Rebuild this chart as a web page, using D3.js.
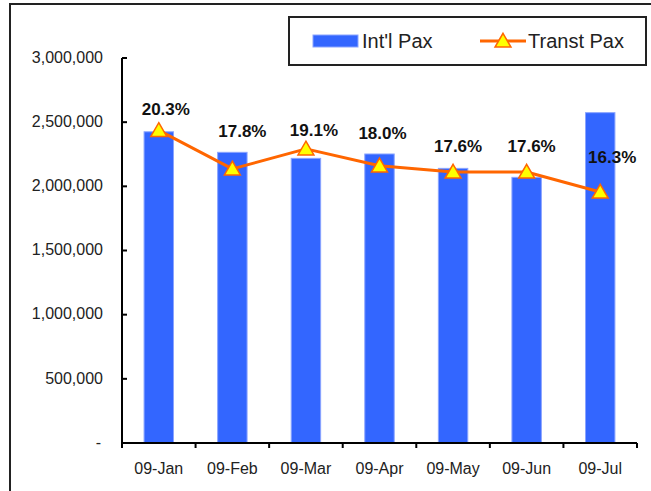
<!DOCTYPE html>
<html>
<head>
<meta charset="utf-8">
<script src="https://cdn.jsdelivr.net/npm/d3@7"></script>
<style>
  html, body { margin: 0; padding: 0; background: #fff; }
  svg { display: block; font-family: 'Liberation Sans', Arial, sans-serif; }
  .tickLabel { font-size: 16px; fill: #222; }
  .pctLabel { font-size: 17px; font-weight: bold; fill: #111; }
  .legendLabel { font-size: 20px; fill: #222; }
</style>
</head>
<body>
<div id="chart"></div>
<script>
const months = ['09-Jan', '09-Feb', '09-Mar', '09-Apr', '09-May', '09-Jun', '09-Jul'];
const intlPax = [2425000, 2265000, 2218000, 2252000, 2140000, 2070000, 2574000];
const transitShare = [0.203, 0.178, 0.191, 0.180, 0.176, 0.176, 0.163];
const yTicks = [0, 500000, 1000000, 1500000, 2000000, 2500000, 3000000];
const seriesNames = ["Int'l Pax", 'Transt Pax'];

// hand-placed data label offsets (px from marker), like the dragged excel labels
const labelOffsets = [[7, -21], [10, -38], [8, -19], [3, -33], [5, -26], [5, -26], [12, -35]];

const width = 651;
const height = 491;
const barColor = '#3366ff';
const lineColor = '#ff6600';
const markerFill = '#ffff00';

const svg = d3.select('#chart').append('svg').attr('width', width).attr('height', height);

const xScale = d3.scaleBand().domain(months).range([122, 637]);
const yScale = d3.scaleLinear().domain([0, 3000000]).range([443, 58]);
// hidden secondary axis for the share line
const y2Scale = d3.scaleLinear().domain([0, 0.25]).range([443, 58]);

const fmtTick = (d) => (d === 0 ? '-' : d3.format(',')(d));
const fmtPct = d3.format('.1%');
const triangle = d3.symbol().type(d3.symbolTriangle);

// outer frame (top + left edge of the sheet)
svg.append('path')
  .attr('d', `M10,${height}V4H${width}`)
  .attr('fill', 'none')
  .attr('stroke', '#222')
  .attr('stroke-width', 2);

// bars
const barWidth = xScale.bandwidth() * 0.4;
svg.append('g')
  .selectAll('rect')
  .data(intlPax)
  .enter()
  .append('rect')
  .attr('x', (d, i) => xScale(months[i]) + (xScale.bandwidth() - barWidth) / 2)
  .attr('y', (d) => yScale(d))
  .attr('width', barWidth)
  .attr('height', (d) => yScale(0) - yScale(d))
  .attr('fill', barColor)
  .attr('stroke', '#8aa4ff')
  .attr('stroke-width', 1);

// y axis
const yAxis = svg.append('g').attr('transform', 'translate(122,0)');
yAxis.append('line')
  .attr('y1', yScale(3000000))
  .attr('y2', yScale(0))
  .attr('stroke', '#000')
  .attr('stroke-width', 2);
yAxis.selectAll('line.yTick')
  .data(yTicks)
  .enter()
  .append('line')
  .attr('class', 'yTick')
  .attr('x1', 0)
  .attr('x2', 5)
  .attr('y1', (d) => yScale(d))
  .attr('y2', (d) => yScale(d))
  .attr('stroke', '#000')
  .attr('stroke-width', 2);
yAxis.selectAll('text')
  .data(yTicks)
  .enter()
  .append('text')
  .attr('class', 'tickLabel')
  .attr('x', (d) => (d === 0 ? -21 : -19))
  .attr('y', (d) => yScale(d))
  .attr('dy', '0.3em')
  .attr('text-anchor', 'end')
  .text(fmtTick);

// x axis
const xGroup = svg.append('g');
xGroup.append('line')
  .attr('x1', 121)
  .attr('x2', 637)
  .attr('y1', yScale(0))
  .attr('y2', yScale(0))
  .attr('stroke', '#000')
  .attr('stroke-width', 2);
xGroup.selectAll('line.xTick')
  .data(months.map((m) => xScale(m)).concat([xScale.range()[1]]))
  .enter()
  .append('line')
  .attr('class', 'xTick')
  .attr('x1', (d) => d)
  .attr('x2', (d) => d)
  .attr('y1', yScale(0))
  .attr('y2', yScale(0) + 5)
  .attr('stroke', '#000')
  .attr('stroke-width', 2);
xGroup.selectAll('text')
  .data(months)
  .enter()
  .append('text')
  .attr('class', 'tickLabel')
  .attr('x', (d) => xScale(d) + xScale.bandwidth() / 2)
  .attr('y', 474)
  .attr('text-anchor', 'middle')
  .text((d) => d);

// share line
const cx = (i) => xScale(months[i]) + xScale.bandwidth() / 2;
const line = d3.line()
  .x((d, i) => cx(i))
  .y((d) => y2Scale(d));

svg.append('path')
  .datum(transitShare)
  .attr('d', line)
  .attr('fill', 'none')
  .attr('stroke', lineColor)
  .attr('stroke-width', 3)
  .attr('stroke-linejoin', 'round');

svg.append('g')
  .selectAll('path')
  .data(transitShare)
  .enter()
  .append('path')
  .attr('d', triangle.size(110))
  .attr('transform', (d, i) => `translate(${cx(i)},${y2Scale(d) + 1.5})`)
  .attr('fill', markerFill)
  .attr('stroke', lineColor)
  .attr('stroke-width', 1.5);

// data labels
svg.append('g')
  .selectAll('text')
  .data(transitShare)
  .enter()
  .append('text')
  .attr('class', 'pctLabel')
  .attr('x', (d, i) => cx(i) + labelOffsets[i][0])
  .attr('y', (d, i) => y2Scale(d) + labelOffsets[i][1])
  .attr('dy', '0.35em')
  .attr('text-anchor', 'middle')
  .text((d) => fmtPct(d));

// legend
const legend = svg.append('g');
legend.append('rect')
  .attr('x', 289)
  .attr('y', 17)
  .attr('width', 357)
  .attr('height', 48)
  .attr('fill', '#fff')
  .attr('stroke', '#222')
  .attr('stroke-width', 2);
legend.append('rect')
  .attr('x', 313)
  .attr('y', 35)
  .attr('width', 45)
  .attr('height', 12)
  .attr('fill', barColor)
  .attr('stroke', '#8aa4ff');
legend.append('text')
  .attr('class', 'legendLabel')
  .attr('x', 362)
  .attr('y', 48)
  .text(seriesNames[0]);
legend.append('line')
  .attr('x1', 480)
  .attr('x2', 526)
  .attr('y1', 41)
  .attr('y2', 41)
  .attr('stroke', lineColor)
  .attr('stroke-width', 3);
legend.append('path')
  .attr('d', triangle.size(110))
  .attr('transform', 'translate(503,42.5)')
  .attr('fill', markerFill)
  .attr('stroke', lineColor)
  .attr('stroke-width', 1.5);
legend.append('text')
  .attr('class', 'legendLabel')
  .attr('x', 528)
  .attr('y', 48)
  .text(seriesNames[1]);
</script>
</body>
</html>
